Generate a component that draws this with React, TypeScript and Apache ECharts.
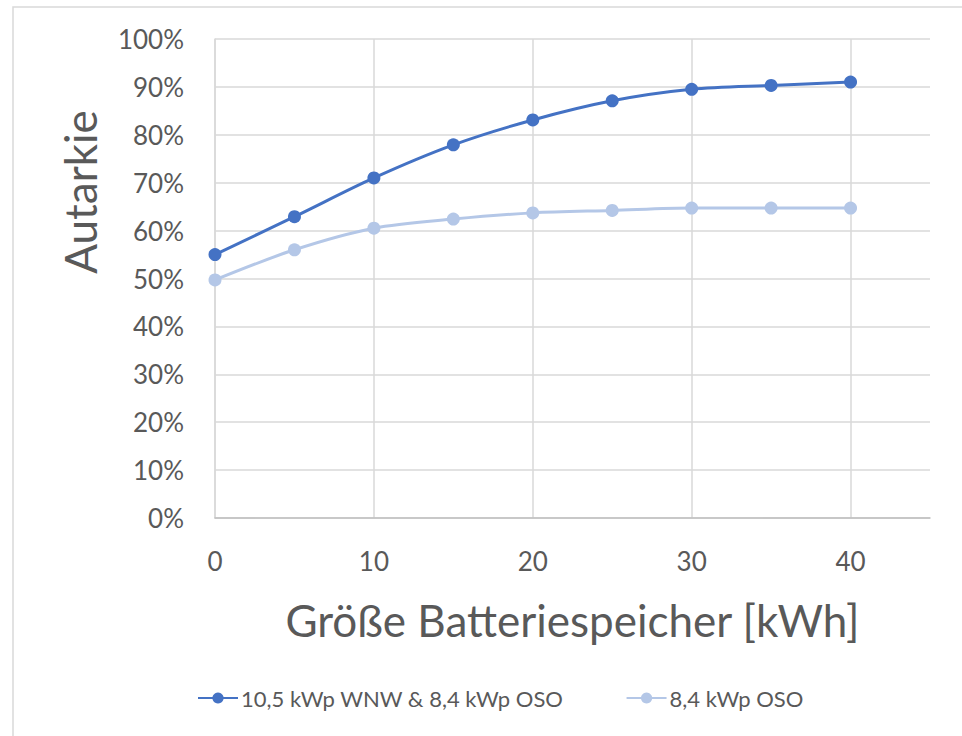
import React, { useEffect, useRef } from "react";
import * as echarts from "echarts";

const batterySizes = [0, 5, 10, 15, 20, 25, 30, 35, 40];
const seriesNames = ["10,5 kWp WNW & 8,4 kWp OSO", "8,4 kWp OSO"];
const autarkyBoth = [55.0, 62.9, 71.0, 77.9, 83.1, 87.1, 89.5, 90.3, 91.0];
const autarkyOso = [49.7, 56.0, 60.5, 62.4, 63.7, 64.2, 64.7, 64.7, 64.7];
const xAxisTitle = "Größe Batteriespeicher [kWh]";
const yAxisTitle = "Autarkie";

const FONT = "Lato, 'Open Sans', sans-serif";
const TEXT = "#595959";
const GRID = "#d9d9d9";

export default function App() {
  const ref = useRef<HTMLDivElement>(null);
  useEffect(() => {
    if (!ref.current) return;
    const chart = echarts.init(ref.current, undefined, { renderer: "svg" });
    chart.setOption({
      animation: false,
      backgroundColor: "#ffffff",
      textStyle: { fontFamily: FONT },
      grid: { left: 215, right: 32, top: 39, bottom: 218, containLabel: false },
      graphic: [
        {
          type: "rect",
          shape: { x: 13, y: 7, width: 980, height: 760 },
          style: { fill: "none", stroke: GRID, lineWidth: 1.5 },
          silent: true,
        },
        {
          type: "text",
          x: 80,
          y: 192,
          rotation: Math.PI / 2,
          style: {
            text: yAxisTitle,
            fontSize: 44,
            fontFamily: FONT,
            fill: TEXT,
            align: "center",
            verticalAlign: "middle",
          },
        },
      ],
      legend: {
        bottom: 22,
        left: 192,
        itemWidth: 40,
        itemHeight: 14,
        itemGap: 62,
        textStyle: { color: TEXT, fontSize: 22, fontFamily: FONT, padding: [0, 0, 0, -2] },
        data: seriesNames,
      },
      xAxis: {
        type: "value",
        min: 0,
        max: 45,
        interval: 10,
        name: xAxisTitle,
        nameLocation: "middle",
        nameGap: 80,
        nameTextStyle: { color: TEXT, fontSize: 44, fontFamily: FONT },
        axisLine: { show: true, lineStyle: { color: "#bfbfbf", width: 1.5 } },
        axisTick: { show: false },
        axisLabel: {
          color: TEXT,
          fontSize: 26,
          fontFamily: FONT,
          margin: 30,
          showMaxLabel: false,
          formatter: (v: number) => (v % 10 === 0 && v <= 40 ? String(v) : ""),
        },
        splitLine: {
          show: true,
          showMaxLine: false,
          lineStyle: { color: GRID, width: 1.5 },
        },
      },
      yAxis: {
        type: "value",
        min: 0,
        max: 100,
        interval: 10,
        axisLine: { show: true, lineStyle: { color: GRID, width: 1.5 } },
        axisTick: { show: false },
        axisLabel: {
          color: TEXT,
          fontSize: 26,
          fontFamily: FONT,
          margin: 31,
          formatter: "{value}%",
        },
        splitLine: { show: true, lineStyle: { color: GRID, width: 1.5 } },
      },
      series: [
        {
          name: seriesNames[0],
          type: "line",
          smooth: 0.3,
          data: batterySizes.map((x, i) => [x, autarkyBoth[i]]),
          symbol: "circle",
          symbolSize: 13,
          lineStyle: { color: "#4472C4", width: 3 },
          itemStyle: { color: "#4472C4" },
        },
        {
          name: seriesNames[1],
          type: "line",
          smooth: 0.3,
          data: batterySizes.map((x, i) => [x, autarkyOso[i]]),
          symbol: "circle",
          symbolSize: 13,
          lineStyle: { color: "#B4C7E7", width: 3 },
          itemStyle: { color: "#B4C7E7" },
        },
      ],
    });
    return () => chart.dispose();
  }, []);
  return (
    <div
      ref={ref}
      style={{ position: "fixed", left: 0, top: 0, width: 962, height: 736 }}
    />
  );
}
